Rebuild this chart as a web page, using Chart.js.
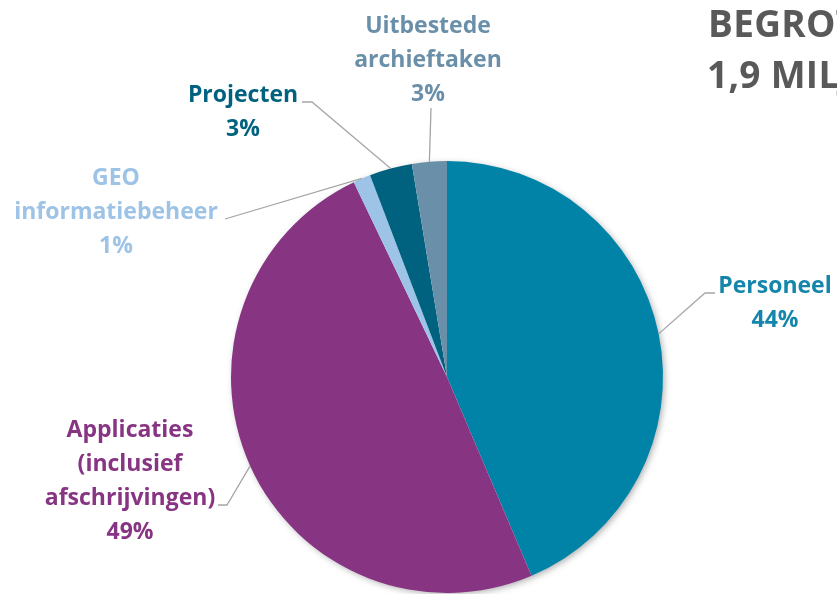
<!DOCTYPE html>
<html>
<head>
<meta charset="utf-8">
<script src="https://cdn.jsdelivr.net/npm/chart.js@4/dist/chart.umd.min.js"></script>
<style>
	html, body { margin: 0; padding: 0; background: #ffffff; }
	#wrap { width: 837px; height: 594px; overflow: hidden; }
</style>
</head>
<body>
<div id="wrap"><canvas id="begrotingPie" width="837" height="594"></canvas></div>
<script>
// kosten verdeling (aandeel in %), volgorde met de klok mee vanaf boven
var categories = ['Personeel', 'Applicaties (inclusief afschrijvingen)', 'GEO informatiebeheer', 'Projecten', 'Uitbestede archieftaken'];
var labelLines = [
	['Personeel'],
	['Applicaties', '(inclusief', 'afschrijvingen)'],
	['GEO', 'informatiebeheer'],
	['Projecten'],
	['Uitbestede', 'archieftaken']
];
var shares = [43.6, 49.3, 1.3, 3.2, 2.6];
var titleLines = ['BEGROTING', '1,9 MILJOEN'];

var sliceColors = ['#0083A7', '#873483', '#9DC3E6', '#00627E', '#6A8FA9'];
var textColors  = ['#1486AC', '#873483', '#9DC3E6', '#00627E', '#6A8FA9'];

// plek van de labels (midden x, eerste basislijn y) en het begin van de lijntjes
var labelLayout = [
	{ x: 775, y: 293, line: [[715, 293], [705, 293]] },
	{ x: 130, y: 437, line: [[218, 505], [227, 505]] },
	{ x: 116, y: 185, line: [[225, 219]] },
	{ x: 243, y: 102, line: [[302, 102], [312, 102]] },
	{ x: 428, y: 33,  line: [[431, 108]] }
];

var pieLabels = {
	id: 'pieLabels',
	beforeDatasetsDraw: function(chart){
		var ctx = chart.ctx;
		ctx.save();
		ctx.shadowColor = 'rgba(0,0,0,0.35)';
		ctx.shadowBlur = 7;
		ctx.shadowOffsetX = 2;
		ctx.shadowOffsetY = 2;
		ctx.fillStyle = '#ffffff';
		var a = chart.getDatasetMeta(0).data[0];
		ctx.beginPath();
		ctx.arc(a.x, a.y, a.outerRadius - 1, 0, Math.PI * 2);
		ctx.fill();
		ctx.restore();
	},
	afterDatasetsDraw: function(chart){
		var ctx = chart.ctx;
		var meta = chart.getDatasetMeta(0);
		var total = shares.reduce(function(s, v){ return s + v; }, 0);
		ctx.save();

		meta.data.forEach(function(arc, i){
			var lay = labelLayout[i];
			var mid = (arc.startAngle + arc.endAngle) / 2;
			var ex = arc.x + Math.cos(mid) * arc.outerRadius;
			var ey = arc.y + Math.sin(mid) * arc.outerRadius;

			// leader line
			ctx.strokeStyle = '#A6A6A6';
			ctx.lineWidth = 1.3;
			ctx.beginPath();
			ctx.moveTo(lay.line[0][0], lay.line[0][1]);
			for(var k = 1; k < lay.line.length; k++){
				ctx.lineTo(lay.line[k][0], lay.line[k][1]);
			}
			ctx.lineTo(ex, ey);
			ctx.stroke();

			// text
			var lines = labelLines[i].concat([Math.round(shares[i] / total * 100) + '%']);
			ctx.fillStyle = textColors[i];
			ctx.font = 'bold 23px "Open Sans"';
			ctx.textAlign = 'center';
			ctx.textBaseline = 'alphabetic';
			lines.forEach(function(t, j){
				ctx.fillText(t, lay.x, lay.y + j * 34);
			});
		});

		// title (loopt rechts buiten beeld)
		ctx.fillStyle = '#595959';
		ctx.font = 'bold 37px "Open Sans"';
		ctx.letterSpacing = '0.3px';
		ctx.textAlign = 'left';
		ctx.fillText(titleLines[0], 708, 37);
		ctx.fillText(titleLines[1], 707, 88);
		ctx.restore();
	}
};

var pieCanvas = document.getElementById('begrotingPie').getContext('2d');

new Chart(pieCanvas, {
	type: 'pie',
	data: {
		labels: categories,
		datasets: [{
			data: shares,
			backgroundColor: sliceColors,
			borderWidth: 0,
			hoverOffset: 0
		}]
	},
	options: {
		responsive: false,
		animation: false,
		layout: { padding: { left: 231, right: 174, top: 161, bottom: 1 } },
		plugins: {
			legend: { display: false },
			tooltip: { enabled: false }
		}
	},
	plugins: [pieLabels]
});
</script>
</body>
</html>
